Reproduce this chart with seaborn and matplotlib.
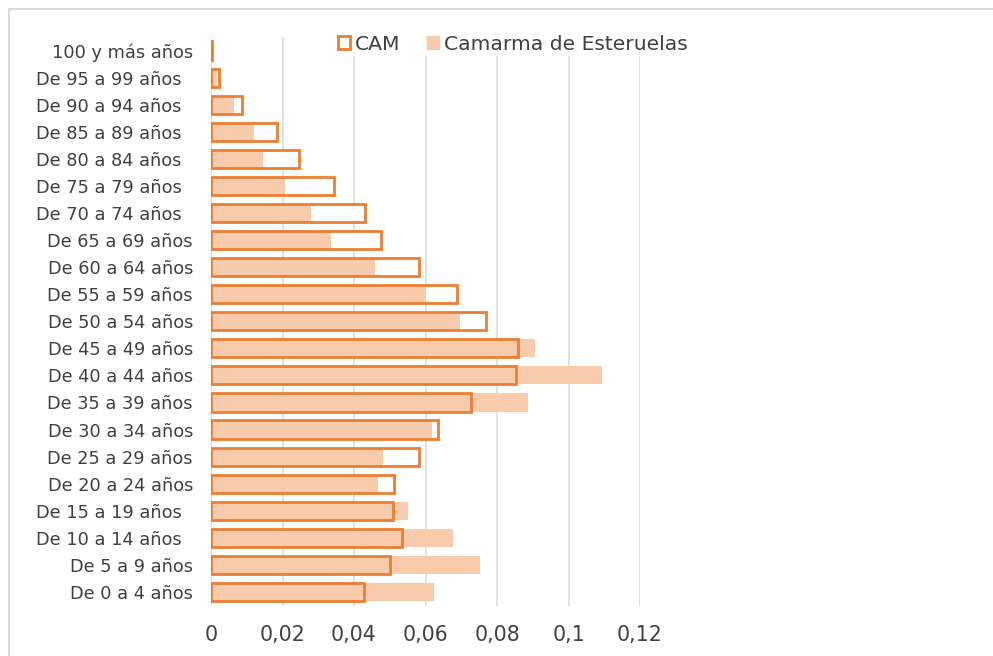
import matplotlib
matplotlib.use("Agg")
import matplotlib.pyplot as plt
from matplotlib.patches import Patch
from matplotlib.ticker import FuncFormatter
from matplotlib.lines import Line2D
import seaborn as sns
import pandas as pd

# Age groups, oldest at the top
age_groups = [
    "100 y más años", "De 95 a 99 años  ", "De 90 a 94 años  ", "De 85 a 89 años  ",
    "De 80 a 84 años  ", "De 75 a 79 años  ", "De 70 a 74 años  ", "De 65 a 69 años",
    "De 60 a 64 años", "De 55 a 59 años", "De 50 a 54 años", "De 45 a 49 años",
    "De 40 a 44 años", "De 35 a 39 años", "De 30 a 34 años", "De 25 a 29 años",
    "De 20 a 24 años", "De 15 a 19 años  ", "De 10 a 14 años  ", "De 5 a 9 años",
    "De 0 a 4 años",
]

# Share of population per age group
cam = [0.0004, 0.0022, 0.0086, 0.0184, 0.0246, 0.0343, 0.0432, 0.0476,
       0.0583, 0.0687, 0.0769, 0.0860, 0.0853, 0.0726, 0.0634, 0.0581,
       0.0513, 0.0509, 0.0535, 0.0502, 0.0428]
camarma = [0.0002, 0.0017, 0.0064, 0.0121, 0.0146, 0.0207, 0.0279, 0.0337,
           0.0460, 0.0600, 0.0696, 0.0907, 0.1094, 0.0886, 0.0618, 0.0482,
           0.0467, 0.0552, 0.0676, 0.0752, 0.0624]

x_ticks = [0, 0.02, 0.04, 0.06, 0.08, 0.1, 0.12]

df = pd.DataFrame({"grupo": age_groups, "CAM": cam, "Camarma de Esteruelas": camarma})

ORANGE = "#ED7D31"
LIGHT = "#F8CBAD"
GRID = "#D9D9D9"
TEXT = "#404040"

sns.set_theme(style="white")
plt.rcParams["font.family"] = ["DejaVu Sans"]

fig = plt.figure(figsize=(9.93, 6.56), dpi=100)
ax = fig.add_axes([211 / 993, 1 - 605.5 / 656, 429 / 993, 568.5 / 656])

lw = 2.0
# CAM bars: white body underneath
sns.barplot(data=df, x="CAM", y="grupo", orient="h", color="white",
            saturation=1, width=0.67, linewidth=0, ax=ax, zorder=2)
# Camarma de Esteruelas filled bars
sns.barplot(data=df, x="Camarma de Esteruelas", y="grupo", orient="h", color=LIGHT,
            saturation=1, width=0.67, linewidth=0, ax=ax, zorder=3)
# CAM outline on top
sns.barplot(data=df, x="CAM", y="grupo", orient="h", fill=False, color=ORANGE,
            edgecolor=ORANGE, saturation=1, width=0.67, linewidth=lw, ax=ax, zorder=4)

ax.set_xlim(0, 0.12)
ax.set_ylim(20.5, -0.5)
ax.set_xticks(x_ticks)
ax.xaxis.set_major_formatter(FuncFormatter(lambda v, p: ("%g" % v).replace(".", ",")))
ax.grid(axis="x", color=GRID, linewidth=1.1, zorder=0)
ax.grid(axis="y", visible=False)
ax.set_axisbelow(True)
for s in ax.spines.values():
    s.set_visible(False)
ax.set_xlabel("")
ax.set_ylabel("")
ax.tick_params(axis="x", length=0, pad=14, labelsize=14.8, labelcolor=TEXT)
ax.tick_params(axis="y", length=0, pad=13, labelsize=12.8, labelcolor=TEXT)

handles = [
    Patch(facecolor="white", edgecolor=ORANGE, linewidth=2.0, label="CAM"),
    Patch(facecolor=LIGHT, edgecolor=LIGHT, label="Camarma de Esteruelas"),
]
leg = fig.legend(handles=handles, loc="center", bbox_to_anchor=(513 / 993, 1 - 44 / 656),
                 ncol=2, frameon=True, fontsize=14.6, handlelength=0.6, handleheight=0.6,
                 handletextpad=0.25, columnspacing=1.3, borderpad=0.1, labelcolor=TEXT)
leg.get_frame().set_facecolor("white")
leg.get_frame().set_edgecolor("white")
leg.get_frame().set_linewidth(0)

# outer chart border (top and left edges)
fig.add_artist(Line2D([8.5 / 993, 8.5 / 993], [0, 1 - 9 / 656], transform=fig.transFigure,
                      color=GRID, linewidth=1.5))
fig.add_artist(Line2D([8.5 / 993, 1], [1 - 9 / 656, 1 - 9 / 656], transform=fig.transFigure,
                      color=GRID, linewidth=1.5))

fig.savefig("out.png", dpi=100)
